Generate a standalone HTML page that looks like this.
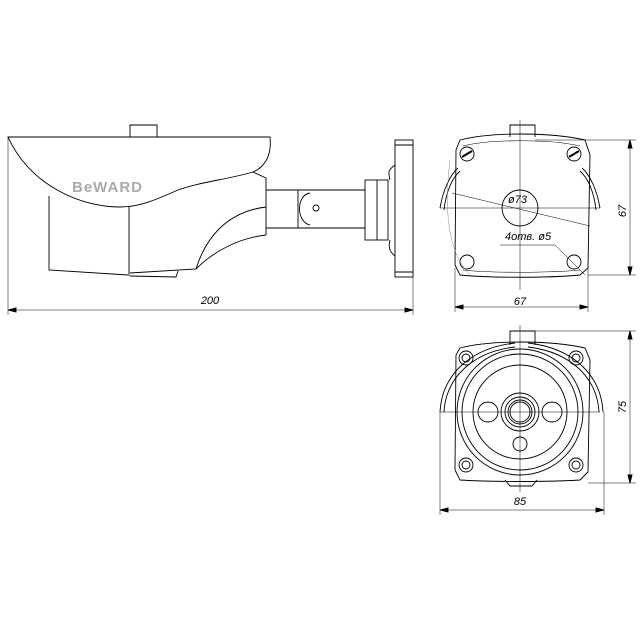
<!DOCTYPE html>
<html><head><meta charset="utf-8"><style>body{margin:0;background:#fff}svg{display:block}</style></head><body>
<svg width="640" height="640" viewBox="0 0 640 640" xmlns="http://www.w3.org/2000/svg" fill="none" stroke="#000" stroke-width="0.9" font-family="Liberation Sans, sans-serif">
<!-- side view -->
<path d="M130,137 V125 H157 V137"/>
<path d="M8,137 H270 C272,155 265,167 253,172 C225,180 200,182 178,190 C155,200 140,207 120,207 C80,207 30,185 8,137 Z"/>
<path d="M253,172 L266,178 V235"/>
<path d="M49,196 V270 L128,275"/>
<path d="M129,207 V276" stroke="#666" stroke-width="1.5"/>
<path d="M130,276 L176,277 L178,271"/>
<path d="M130,273 L196,269 C205,240 225,212 266,207"/>
<path d="M196,269 C215,250 240,238 266,235"/>
<path d="M266,190 H365 M266,228 H365"/>
<path d="M298,190 V228 M310,193 C296,195 296,222 310,225"/>
<circle cx="316" cy="208" r="3"/>
<rect x="365" y="180" width="23" height="60"/>
<path d="M377,180 V240"/>
<rect x="395" y="140" width="18" height="137"/>
<path d="M395,145 H413 M395,272 H413"/>
<path d="M395,165 C388,170 388,172 390,180 M390,240 C388,248 390,252 395,256"/>
<text x="72" y="192" fill="#aaa" stroke="none" font-weight="bold" font-size="15" letter-spacing="1">BeWARD</text>
<g stroke-width="0.5"><path d="M8,137 V315 M413,277 V315 M8,310 H413"/></g>
<path d="M8,310 l8,-2 v4 z M413,310 l-8,-2 v4 z" fill="#000"/>
<text x="210" y="304" font-size="11" font-style="italic" fill="#000" stroke="none" text-anchor="middle">200</text>

<!-- front view 1 -->
<path d="M510,137 V125 H535 V137"/>
<path d="M460,140 C490,132 550,132 585,140 L590,155 L588,268 L580,275 C550,278 490,278 460,275 L455,265 L456,150 Z"/>
<path d="M463,146 C490,139 550,139 580,146 M463,270 C490,273 550,273 580,270" stroke-width="0.6"/>
<circle cx="467" cy="154" r="7"/><circle cx="574" cy="154" r="7"/>
<circle cx="467" cy="262" r="7"/><circle cx="574" cy="262" r="7"/>
<path d="M462,157 L472,151 M569,157 L579,151" stroke-width="2"/>
<path d="M440,208 C443,190 450,175 458,168 M444,210 C446,192 452,178 460,171"/>
<path d="M600,208 C597,190 590,175 582,168 M596,210 C594,192 588,178 580,171"/>
<circle cx="520" cy="208" r="18"/>
<g stroke-width="0.5">
<path d="M440,208 H600 M520,120 V290"/>
<path d="M452,193 L590,226"/>
<path d="M500,245 H555 L585,275"/>
<path d="M535,140 H636 M588,275 H636 M630,140 V275"/>
<path d="M455,268 V312 M588,268 V312 M455,307 H588"/>
<path d="M450,160 C445,200 445,250 470,275" stroke="#888"/>
</g>
<path d="M630,140 l-2,8 h4 z M630,275 l-2,-8 h4 z M455,307 l8,-2 v4 z M588,307 l-8,-2 v4 z" fill="#000"/>
<text x="508" y="203" font-size="11" font-style="italic" fill="#000" stroke="none">ø73</text>
<text x="505" y="240" font-size="11" font-style="italic" fill="#000" stroke="none">4отв. ø5</text>
<text x="520" y="305" font-size="11" font-style="italic" fill="#000" stroke="none" text-anchor="middle">67</text>
<text transform="translate(626,211) rotate(-90)" font-size="11" font-style="italic" fill="#000" stroke="none" text-anchor="middle">67</text>

<!-- front view 2 -->
<path d="M510,345 V331 H535 V345"/>
<path d="M460,348 C490,340 550,340 585,348 L590,360 L588,472 L580,480 C550,482 490,482 460,480 L455,470 L456,355 Z"/>
<circle cx="466" cy="358" r="7"/><circle cx="466" cy="358" r="4"/>
<circle cx="576" cy="358" r="7"/><circle cx="576" cy="358" r="4"/>
<circle cx="466" cy="465" r="7"/><circle cx="466" cy="465" r="4"/>
<circle cx="576" cy="465" r="7"/><circle cx="576" cy="465" r="4"/>
<circle cx="520" cy="412" r="63"/>
<circle cx="520" cy="412" r="58"/>
<circle cx="520" cy="412" r="47"/>
<circle cx="520" cy="412" r="19"/><circle cx="520" cy="412" r="15"/><circle cx="520" cy="412" r="12"/><circle cx="520" cy="412" r="10"/>
<circle cx="488" cy="412" r="10"/><circle cx="552" cy="412" r="10"/>
<circle cx="520" cy="444" r="7"/>
<path d="M440,412 C442,375 470,348 515,343 M444,412 C446,378 472,352 515,347"/>
<path d="M603,412 C601,375 573,348 528,343 M599,412 C597,378 571,352 528,347"/>
<path d="M505,480 L510,486 H532 L537,480"/>
<g stroke-width="0.5">
<path d="M440,412 H600 M520,325 V492"/>
<path d="M535,331 H636 M588,483 H636 M630,331 V483"/>
<path d="M440,412 V515 M604,412 V515 M440,510 H604"/>
</g>
<path d="M630,331 l-2,8 h4 z M630,483 l-2,-8 h4 z M440,510 l8,-2 v4 z M604,510 l-8,-2 v4 z" fill="#000"/>
<text x="520" y="505" font-size="11" font-style="italic" fill="#000" stroke="none" text-anchor="middle">85</text>
<text transform="translate(626,407) rotate(-90)" font-size="11" font-style="italic" fill="#000" stroke="none" text-anchor="middle">75</text>
</svg>
</body></html>
